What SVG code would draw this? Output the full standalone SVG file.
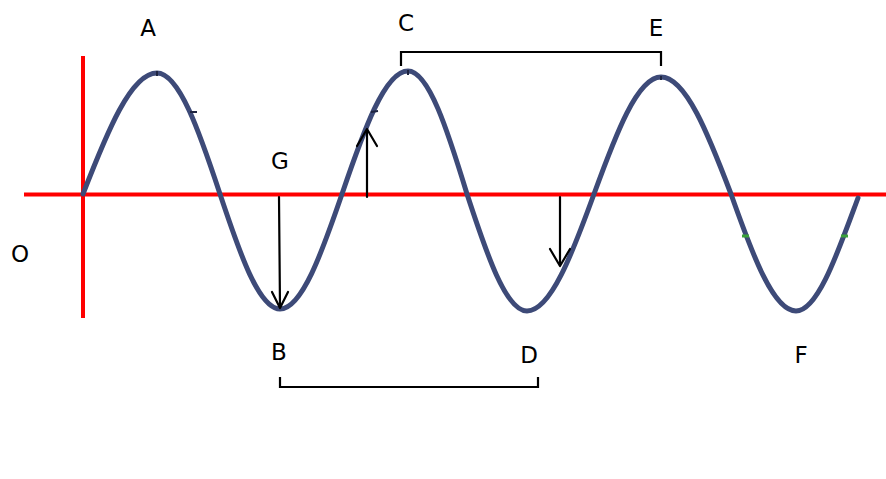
<svg xmlns="http://www.w3.org/2000/svg" width="886" height="479" viewBox="0 0 886 479">
<style>
.lbl{font-family:"DejaVu Sans","Liberation Sans",sans-serif;font-size:23px;fill:#000;text-anchor:middle}
.axis{stroke:#ff0000;stroke-width:4;fill:none}
.wave{stroke:#3d4a78;stroke-width:5;fill:none;stroke-linecap:round}
.br{stroke:#000;stroke-width:2.2;fill:none}
.arr{stroke:#000;stroke-width:2.2;fill:none;stroke-linecap:round;stroke-linejoin:round}
.tick{stroke:#1e2440;stroke-width:2;fill:none}
.gtick{stroke:#3aa03a;stroke-width:3;fill:none}
</style>
<rect width="886" height="479" fill="#fff"/>
<g id="axes">
<line class="axis" x1="24" y1="194.5" x2="886" y2="194.5"/>
<line class="axis" x1="83" y1="56" x2="83" y2="318"/>
</g>
<g id="wave">
<path class="wave" d="M83,194 C107.1,132 131,73 157,73 C179.1,73 199.5,132 220,194 C239.6,252.9 258.9,309 280,309 C301.8,309 321.8,252.9 342,194 C363.5,131 384.8,71 408,71 C428.7,71 447.8,131 467,194 C486.6,253.9 505.9,311 527,311 C550.6,311 572.2,253.9 594,194 C615.8,134.1 637.4,77 661,77 C685.6,77 708.2,134.1 731,194 C752.2,253.9 773.2,311 796,311 C817.8,311 837.8,252.5 858,198"/>
<line class="tick" x1="157" y1="71" x2="157" y2="76"/>
<line class="tick" x1="190" y1="112" x2="197" y2="112"/>
<line class="tick" x1="371" y1="112" x2="378" y2="111"/>
<line class="tick" x1="408" y1="70" x2="408" y2="75"/>
<line class="tick" x1="661" y1="76" x2="661" y2="80"/>
<line class="gtick" x1="742" y1="236" x2="749" y2="236"/>
<line class="gtick" x1="841" y1="236" x2="848" y2="236"/>
</g>
<g id="connectors">
<g id="arrow-G">
<line class="arr" x1="279" y1="197" x2="280" y2="307"/>
<polyline class="arr" points="272,292 280,308 288,292"/>
</g>
<g id="arrow-up">
<line class="arr" x1="367" y1="197" x2="367" y2="130"/>
<polyline class="arr" points="357,146 367,129 377,146"/>
</g>
<g id="arrow-down">
<line class="arr" x1="560" y1="197" x2="560" y2="265"/>
<polyline class="arr" points="550,249 560,266 570,249"/>
</g>
<g id="bracket-CE">
<polyline class="br" points="401,66 401,52 661,52 661,66"/>
</g>
<g id="bracket-BD">
<polyline class="br" points="280,377 280,387 538,387 538,377"/>
</g>
</g>
<g id="labels">
<g id="label-A"><text class="lbl" x="148" y="36">A</text></g>
<g id="label-C"><text class="lbl" x="406" y="31">C</text></g>
<g id="label-E"><text class="lbl" x="656" y="36">E</text></g>
<g id="label-G"><text class="lbl" x="280" y="169">G</text></g>
<g id="label-O"><text class="lbl" x="20" y="262">O</text></g>
<g id="label-B"><text class="lbl" x="279" y="360">B</text></g>
<g id="label-D"><text class="lbl" x="529" y="363">D</text></g>
<g id="label-F"><text class="lbl" x="801" y="363">F</text></g>
</g>
</svg>
